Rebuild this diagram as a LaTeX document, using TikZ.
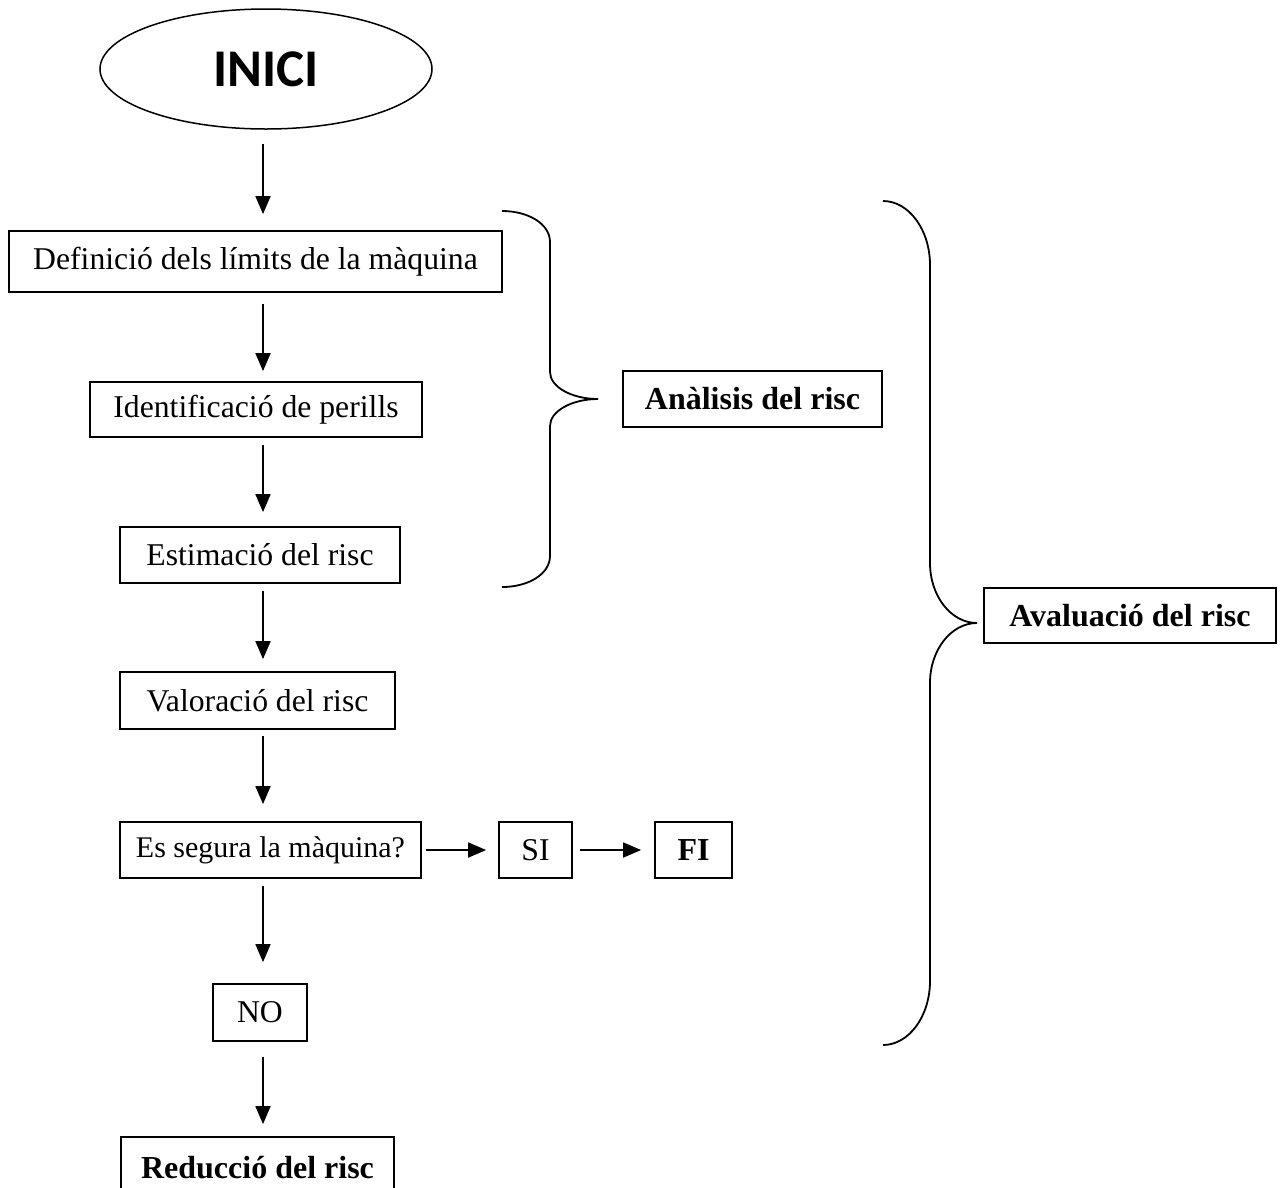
\documentclass[tikz,border=0pt]{standalone}
\usepackage{fontspec}
\setmainfont{Liberation Serif}
\newfontfamily\calib{Carlito}
\usetikzlibrary{arrows.meta,shapes.geometric}
\begin{document}
\begin{tikzpicture}[x=1pt,y=-1pt,
  box/.style={draw, line width=1.8pt, inner sep=0pt, font=\fontsize{31.7}{36}\selectfont},
  bbox/.style={box, font=\fontsize{32}{36}\selectfont\bfseries},
  arr/.style={line width=1.8pt, -{Triangle[length=18pt,width=15pt]}},
  bracestyle/.style={line width=1.8pt}]
\useasboundingbox[fill=white] (0,0) rectangle (1283,1187);
\coordinate (ax) at (263,0);
% start ellipse
\node[draw, ellipse, line width=1.5pt, minimum width=332pt, minimum height=120pt, inner sep=0pt,
      font=\calib\bfseries\fontsize{53}{60}\selectfont] (start) at (266,69) {INICI};
% boxes
\node[box, minimum width=493pt, minimum height=61pt] (def) at (255.5,261.5) {Definició dels límits de la màquina};
\node[box, minimum width=332pt, minimum height=55pt] (ident) at (256,409.5) {Identificació de perills};
\node[box, minimum width=280pt, minimum height=56pt] (estim) at (260,555) {Estimació del risc};
\node[box, minimum width=275pt, minimum height=57pt] (valor) at (257.5,700.5) {Valoració del risc};
\node[box, minimum width=301pt, minimum height=56pt, font=\fontsize{30}{34}\selectfont] (segura) at (270.5,850) {Es segura la màquina?};
\node[box, minimum width=73pt, minimum height=56pt] (si) at (535.5,850) {SI};
\node[bbox, minimum width=77pt, minimum height=56pt] (fi) at (693.5,850) {FI};
\node[box, minimum width=94pt, minimum height=57pt] (no) at (260,1012.5) {NO};
\node[bbox, minimum width=273pt, minimum height=62pt] (red) at (257.5,1168) {Reducció del risc};
\node[bbox, minimum width=259pt, minimum height=56pt] (anal) at (752.5,399) {Anàlisis del risc};
\node[bbox, minimum width=292pt, minimum height=55pt] (aval) at (1130,615.5) {Avaluació del risc};
% vertical arrows
\draw[arr, shorten <=14pt, shorten >=16pt] (start.south -| ax) -- (def.north -| ax);
\draw[arr, shorten <=11pt, shorten >=10pt] (def.south -| ax) -- (ident.north -| ax);
\draw[arr, shorten <=7pt, shorten >=14pt] (ident.south -| ax) -- (estim.north -| ax);
\draw[arr, shorten <=7pt, shorten >=12pt] (estim.south -| ax) -- (valor.north -| ax);
\draw[arr, shorten <=6pt, shorten >=17pt] (valor.south -| ax) -- (segura.north -| ax);
\draw[arr, shorten <=7pt, shorten >=21pt] (segura.south -| ax) -- (no.north -| ax);
\draw[arr, shorten <=15pt, shorten >=12pt] (no.south -| ax) -- (red.north -| ax);
% horizontal arrows
\draw[arr, shorten <=4pt, shorten >=12pt] (segura.east) -- (si.west);
\draw[arr, shorten <=7pt, shorten >=13pt] (si.east) -- (fi.west);
% braces
\draw[bracestyle] (502,211) .. controls (528.5,211) and (550,224) .. (550,242)
  -- (550,372) .. controls (550,387) and (572,399) .. (598,399)
  .. controls (572,399) and (550,411) .. (550,426)
  -- (550,556) .. controls (550,574) and (528.5,587) .. (502,587);
\draw[bracestyle] (883,201) .. controls (909,201) and (930,230) .. (930,265)
  -- (930,563) .. controls (930,596) and (951,623) .. (977,623)
  .. controls (951,623) and (930,650) .. (930,683)
  -- (930,981) .. controls (930,1016) and (909,1045) .. (883,1045);
\end{tikzpicture}
\end{document}
